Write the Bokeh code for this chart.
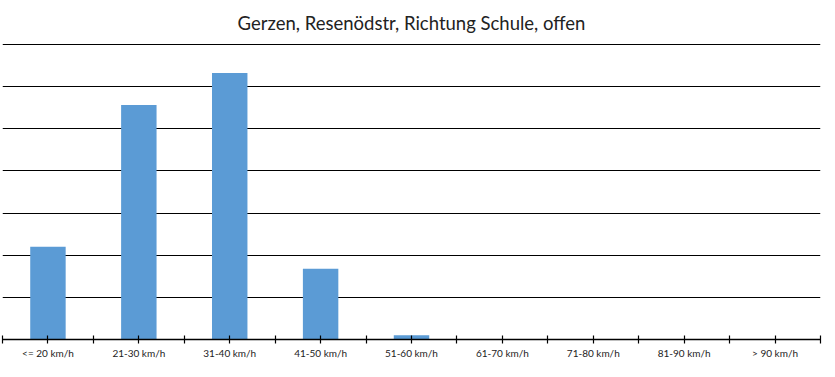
from bokeh.plotting import figure
from bokeh.models import ColumnDataSource, FixedTicker, CustomJSTickFormatter, Range1d
from bokeh.embed import file_html
from bokeh.resources import INLINE

categories = ["<= 20 km/h", "21-30 km/h", "31-40 km/h", "41-50 km/h", "51-60 km/h",
              "61-70 km/h", "71-80 km/h", "81-90 km/h", "> 90 km/h"]
values = [2.2, 5.56, 6.32, 1.68, 0.1, 0, 0, 0, 0]
grid_levels = [1, 2, 3, 4, 5, 6, 7]

n = len(categories)
xs = [i + 0.5 for i in range(n)]
src = ColumnDataSource(dict(x=xs, top=values, cat=categories))

p = figure(width=822, height=361, output_backend="svg", toolbar_location=None,
           x_range=Range1d(0, n), y_range=Range1d(0, max(grid_levels) + 0.02),
           title="Gerzen, Resenödstr, Richtung Schule, offen",
           min_border_left=2, min_border_right=2, min_border_top=0, min_border_bottom=0)
p.outline_line_color = None
p.background_fill_color = "white"
p.border_fill_color = "white"

p.title.align = "center"
p.title.text_font = "Lato"
p.title.text_font_size = "18.5px"
p.title.text_font_style = "normal"
p.title.text_color = "#222222"
p.title.standoff = 19

p.vbar(x="x", top="top", width=0.39, source=src, fill_color="#5B9BD5", line_color=None)

p.yaxis.visible = False
p.ygrid.ticker = FixedTicker(ticks=grid_levels)
p.ygrid.grid_line_color = "black"
p.ygrid.grid_line_width = 1
p.xgrid.visible = False

ticks = [i * 0.5 for i in range(2 * n + 1)]
p.xaxis.ticker = FixedTicker(ticks=ticks)
p.xaxis.formatter = CustomJSTickFormatter(args=dict(labels=categories), code="""
    const f = tick - Math.floor(tick);
    if (Math.abs(f - 0.5) < 1e-6) { return labels[Math.floor(tick)]; }
    return "";
""")
p.xaxis.axis_line_color = "black"
p.xaxis.axis_line_width = 1.5
p.xaxis.major_tick_line_color = "black"
p.xaxis.major_tick_line_width = 1.2
p.xaxis.major_tick_in = 4
p.xaxis.major_tick_out = 4
p.xaxis.minor_tick_line_color = None
p.xaxis.major_label_standoff = 3
p.xaxis.major_label_text_font = "Lato"
p.xaxis.major_label_text_font_size = "10px"
p.xaxis.major_label_text_color = "#222222"

open("out.html", "w").write(file_html(p, INLINE))
